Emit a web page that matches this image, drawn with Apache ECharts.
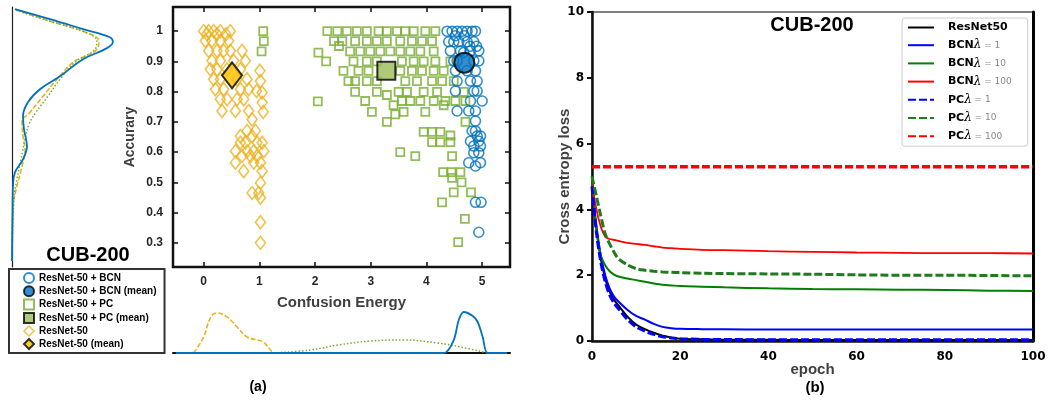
<!DOCTYPE html>
<html>
<head>
<meta charset="utf-8">
<script src="https://cdn.jsdelivr.net/npm/echarts@6/dist/echarts.min.js"></script>
<style>
  html, body { margin: 0; padding: 0; background: #fff; }
  #chart { width: 1052px; height: 400px; }
</style>
</head>
<body>
<div id="chart"></div>
<script>
// ---- (a) scatter: confusion energy vs accuracy ----
const energyTicks = [0, 1, 2, 3, 4, 5];
const accTicks = [0.3, 0.4, 0.5, 0.6, 0.7, 0.8, 0.9, 1];

// ResNet-50 (baseline) per-class points [energy, accuracy]
const basePoints = [
  [0.00,1.00],[0.09,1.00],[0.18,1.00],[0.30,1.00],[0.48,1.00],[0.06,0.99],[0.24,0.99],[0.40,0.99],
  [0.03,0.968],[0.15,0.968],[0.30,0.968],[0.45,0.968],
  [0.09,0.935],[0.24,0.935],[0.36,0.935],[0.48,0.935],[0.69,0.935],
  [0.15,0.902],[0.30,0.902],[0.54,0.902],[0.75,0.902],
  [0.12,0.874],[0.24,0.874],[0.42,0.874],[0.66,0.874],
  [0.18,0.841],[0.30,0.841],[0.60,0.841],[0.78,0.841],
  [0.21,0.808],[0.36,0.808],[0.66,0.808],[0.81,0.808],
  [0.30,0.775],[0.42,0.775],[0.60,0.775],[0.72,0.775],
  [0.33,0.736],[0.57,0.736],[0.81,0.736],
  [1.01,0.869],[1.02,0.835],[0.95,0.802],[1.05,0.797],[1.05,0.764],[1.07,0.733],
  [0.87,0.708],[0.78,0.670],[0.93,0.670],[0.66,0.653],[0.87,0.653],[0.66,0.631],[0.75,0.631],[0.96,0.631],[1.05,0.631],
  [0.57,0.603],[0.78,0.603],[0.90,0.603],[1.08,0.603],[0.69,0.587],[0.84,0.587],[0.96,0.587],
  [0.57,0.565],[0.90,0.565],[1.02,0.565],[0.72,0.537],[1.05,0.537],[1.02,0.498],[0.87,0.465],[0.99,0.465],
  [1.02,0.449],[1.02,0.368],[1.02,0.300]
];
// ResNet-50 + PC
const pcPoints = [
  [1.07,1.00],[1.08,0.967],[1.04,0.933],[2.06,0.929],[2.20,0.90],[2.05,0.768],
  [2.22,1],[2.40,1],[2.57,1],[2.75,1],[2.93,1],[3.14,1],[3.29,1],[3.47,1],[3.62,1],[3.77,1],[3.98,1],[4.16,1],
  [2.34,0.967],[2.49,0.967],[2.72,0.967],[2.93,0.967],[3.11,0.967],[3.29,0.967],[3.53,0.967],[3.74,0.967],[3.92,0.967],[4.10,0.967],[2.43,0.951],
  [2.63,0.933],[2.81,0.933],[2.99,0.933],[3.17,0.933],[3.35,0.933],[3.53,0.933],[3.71,0.933],[3.89,0.933],[4.13,0.933],
  [2.69,0.90],[2.93,0.90],[3.11,0.90],[3.56,0.90],[3.77,0.90],[3.95,0.90],[4.16,0.90],[4.43,0.90],
  [2.51,0.869],[2.78,0.869],[2.96,0.869],[3.53,0.869],[3.74,0.869],[3.92,0.869],[4.13,0.869],[4.31,0.869],
  [2.60,0.835],[2.72,0.835],[2.93,0.835],[3.11,0.835],[3.62,0.835],[3.83,0.835],[4.10,0.835],[4.28,0.835],[4.49,0.835],
  [2.72,0.799],[3.11,0.799],[3.50,0.799],[3.65,0.799],[3.95,0.799],[4.19,0.799],[4.67,0.799],[3.29,0.789],
  [2.90,0.769],[3.56,0.769],[3.71,0.769],[3.89,0.769],[4.13,0.769],[4.34,0.769],[4.52,0.769],[4.70,0.769],
  [3.41,0.755],[4.31,0.755],[3.02,0.733],[3.59,0.733],[3.98,0.733],[3.44,0.725],[3.29,0.700],[4.70,0.700],
  [3.95,0.667],[4.10,0.667],[4.25,0.667],[4.43,0.655],[4.10,0.633],[4.25,0.633],[4.43,0.633],
  [3.53,0.600],[3.80,0.587],[4.46,0.587],[4.30,0.534],[4.45,0.534],[4.61,0.534],[4.46,0.515],[4.63,0.500],
  [4.49,0.467],[4.80,0.467],[4.28,0.434],[4.69,0.379],[4.57,0.302]
];
// ResNet-50 + BCN
const bcnPoints = [
  [4.37,1],[4.46,1],[4.55,1],[4.64,1],[4.73,1],[4.82,1],[4.88,1],
  [4.52,0.985],[4.68,0.985],
  [4.40,0.965],[4.49,0.965],[4.58,0.965],[4.73,0.965],[4.85,0.965],
  [4.78,0.950],[4.90,0.950],
  [4.43,0.935],[4.61,0.935],[4.79,0.935],[4.94,0.935],[4.67,0.930],
  [4.49,0.902],[4.55,0.902],[4.85,0.902],[4.94,0.902],
  [4.52,0.869],[4.73,0.869],[4.88,0.869],
  [4.55,0.835],[4.79,0.835],[4.91,0.835],
  [4.52,0.802],[4.85,0.802],[4.91,0.802],
  [4.79,0.769],[5.00,0.769],
  [4.55,0.736],[4.76,0.736],[4.88,0.736],
  [4.88,0.703],[4.82,0.670],[4.88,0.670],[4.91,0.653],[4.97,0.653],[4.79,0.636],[4.94,0.636],
  [4.85,0.620],[4.97,0.620],[4.85,0.598],[4.94,0.598],[4.76,0.565],[4.97,0.565],[4.88,0.554],
  [4.88,0.434],[4.98,0.434],[4.94,0.335]
];
const baseMean = [0.51, 0.854];
const pcMean = [3.28, 0.869];
const bcnMean = [4.68, 0.896];

// marginal density of accuracy [density, accuracy]
const bcnAccDensity = [[0.15,1.073],[1.93,1.04],[3.61,1.007],[4.98,0.98],[5.13,0.964],[4.83,0.944],[3.61,0.907],[2.44,0.851],[1.42,0.808],[0.81,0.765],[0.56,0.719],[0.61,0.676],[0.76,0.619],[0.56,0.576],[0.15,0.533],[0.05,0.487],[0.03,0.42],[0,0.24]];
const baseAccDensity = [[0.2,1.07],[1.93,1.033],[3.71,0.997],[4.42,0.967],[4.32,0.94],[3.71,0.917],[3.1,0.897],[2.29,0.841],[1.58,0.785],[0.92,0.732],[0.51,0.699],[0.56,0.652],[0.66,0.609],[0.51,0.553],[0.25,0.487],[0.05,0.42],[0,0.24]];
const pcAccDensity = [[0.2,1.07],[1.93,1.033],[3.71,0.997],[4.32,0.967],[4.22,0.94],[3.2,0.897],[2.44,0.841],[1.83,0.785],[1.22,0.732],[0.86,0.692],[0.66,0.642],[0.46,0.576],[0.25,0.51],[0.1,0.444],[0,0.24]];

// marginal density of confusion energy [energy, density]
const baseEnergyDensity = [[-0.18,0],[0,1.81],[0.12,3.96],[0.24,4.53],[0.42,4.08],[0.6,2.94],[0.78,1.81],[0.96,1.47],[1.07,1.25],[1.2,0.34],[1.25,0]];
const bcnEnergyDensity = [[-0.5,0],[4.31,0],[4.49,1.47],[4.58,3.74],[4.67,4.64],[4.83,4.19],[4.92,3.51],[5.01,1.81],[5.1,0],[5.45,0]];
const pcEnergyDensity = [[1.2,0],[1.92,0.34],[2.4,0.9],[3.0,1.36],[3.59,1.47],[4.2,1.13],[4.61,0.68],[5.1,0]];

// ---- (b) training loss curves ----
const epochs = [0,1,2,3,4,5,6,8,10,12,14,16,18,20,25,30,40,50,60,70,80,90,100];
const lossResNet50 = [4.7,3.4,2.5,1.9,1.5,1.25,1.08,0.75,0.5,0.36,0.25,0.16,0.11,0.07,0.05,0.04,0.035,0.03,0.03,0.03,0.03,0.03,0.03];
const lossBCN1   = [4.6,3.5,2.6,2.0,1.6,1.35,1.2,0.95,0.76,0.65,0.52,0.43,0.39,0.37,0.36,0.355,0.35,0.35,0.35,0.35,0.35,0.35,0.35];
const lossBCN10  = [5.0,3.4,2.6,2.3,2.12,2.02,1.96,1.9,1.85,1.8,1.75,1.71,1.69,1.67,1.65,1.63,1.6,1.58,1.57,1.56,1.55,1.53,1.52];
const lossBCN100 = [4.8,4.0,3.47,3.17,3.1,3.07,3.04,2.98,2.95,2.92,2.88,2.84,2.82,2.8,2.77,2.76,2.73,2.71,2.69,2.68,2.67,2.67,2.66];
const lossPC1    = [4.7,3.3,2.4,1.8,1.4,1.15,0.98,0.66,0.43,0.3,0.2,0.13,0.09,0.07,0.05,0.045,0.04,0.04,0.04,0.04,0.04,0.04,0.04];
const lossPC10   = [5.0,4.4,3.8,3.25,2.95,2.7,2.5,2.32,2.2,2.15,2.12,2.1,2.09,2.08,2.06,2.05,2.04,2.03,2.01,2.0,2.0,1.99,1.98];
const lossPC100  = [5.3,5.3,5.3,5.3,5.3,5.3,5.3,5.3,5.3,5.3,5.3,5.3,5.3,5.3,5.3,5.3,5.3,5.3,5.3,5.3,5.3,5.3,5.3];

const ORANGE = '#EDB120', GREEN = '#77AC30', BLUE = '#0072BD';
const SANS = "'Liberation Sans', Arial, sans-serif";
const DEJAVU = "'DejaVu Sans', sans-serif";

const pairs = (xs, ys) => xs.map((x, i) => [x, ys[i]]);

const chart = echarts.init(document.getElementById('chart'), null, { renderer: 'canvas' });

const hiddenAxis = (extra) => Object.assign({
  type: 'value', axisLine: { show: false }, axisTick: { show: false },
  axisLabel: { show: false }, splitLine: { show: false }
}, extra);

const lossLine = (name, data, color, width, dashed) => ({
  name, type: 'line', xAxisIndex: 4, yAxisIndex: 4, data: pairs(epochs, data),
  showSymbol: false, symbol: 'circle', smooth: 0.3, z: 3,
  lineStyle: { color, width, type: dashed ? [8, 3] : 'solid' },
  itemStyle: { color, opacity: 0 }
});

const legendLabel = (name) => {
  if (name === 'ResNet50') return '{n|ResNet50}';
  const m = name.match(/^(\w+)λ = (\d+)$/);
  return `{n|${m[1]}}{l|λ}{g| = ${m[2]}}`;
};

const tickStyle = { color: '#111', width: 1.5 };
const axisNameStyle = (size) => ({ fontFamily: SANS, fontWeight: 'bold', fontSize: size, color: '#404040' });

const option = {
  animation: false,
  backgroundColor: '#fff',
  grid: [
    { left: 173, top: 7, width: 337, height: 260, show: true, borderColor: '#111', borderWidth: 2.5, backgroundColor: 'transparent' },
    { left: 12, top: 7, width: 118, height: 260 },
    { left: 173, top: 300, width: 337, height: 53 },
    { left: 592, top: 12, width: 441, height: 329, show: true, borderColor: '#000', borderWidth: 1 }
  ],
  xAxis: [
    { type: 'value', gridIndex: 0, min: -0.55, max: 5.5, position: 'bottom',
      axisLine: { show: false, onZero: false }, splitLine: { show: false },
      axisTick: { show: true, inside: true, length: 5, customValues: energyTicks, lineStyle: tickStyle },
      axisLabel: { customValues: energyTicks, margin: 9, fontFamily: SANS, fontWeight: 'bold', fontSize: 12, color: '#262626' },
      name: 'Confusion Energy', nameLocation: 'middle', nameGap: 28, nameMoveOverlap: false,
      nameTextStyle: axisNameStyle(15) },
    { type: 'value', gridIndex: 0, min: -0.55, max: 5.5, position: 'top',
      axisLine: { show: false, onZero: false }, splitLine: { show: false }, axisLabel: { show: false },
      axisTick: { show: true, inside: true, length: 5, customValues: energyTicks, lineStyle: tickStyle } },
    hiddenAxis({ gridIndex: 1, min: 0, max: 6 }),
    hiddenAxis({ gridIndex: 2, min: -0.55, max: 5.5, axisLine: { show: true, onZero: false, lineStyle: { color: '#111', width: 2 } } }),
    { type: 'value', gridIndex: 3, min: 0, max: 100, interval: 20,
      axisLine: { show: true, onZero: false, lineStyle: { color: '#111', width: 2.5 } },
      axisTick: { show: false }, splitLine: { show: false },
      axisLabel: { margin: 10, fontFamily: DEJAVU, fontWeight: 'bold', fontSize: 12, color: '#000' },
      name: 'epoch', nameLocation: 'middle', nameGap: 21, nameMoveOverlap: false,
      nameTextStyle: axisNameStyle(15) }
  ],
  yAxis: [
    { type: 'value', gridIndex: 0, min: 0.22, max: 1.08, position: 'left',
      axisLine: { show: false, onZero: false }, splitLine: { show: false },
      axisTick: { show: true, inside: true, length: 5, customValues: accTicks, lineStyle: tickStyle },
      axisLabel: { customValues: accTicks, margin: 10, fontFamily: SANS, fontWeight: 'bold', fontSize: 12, color: '#262626' },
      name: 'Accurary', nameLocation: 'middle', nameGap: 36, nameRotate: 90, nameMoveOverlap: false,
      nameTextStyle: axisNameStyle(14) },
    { type: 'value', gridIndex: 0, min: 0.22, max: 1.08, position: 'right',
      axisLine: { show: false, onZero: false }, splitLine: { show: false }, axisLabel: { show: false },
      axisTick: { show: true, inside: true, length: 5, customValues: accTicks, lineStyle: tickStyle } },
    hiddenAxis({ gridIndex: 1, min: 0.22, max: 1.08, axisLine: { show: true, onZero: false, lineStyle: { color: '#222', width: 1.2 } } }),
    hiddenAxis({ gridIndex: 2, min: 0, max: 6 }),
    { type: 'value', gridIndex: 3, min: 0, max: 10, interval: 2, position: 'left',
      axisLine: { show: true, onZero: false, lineStyle: { color: '#111', width: 2.5 } },
      axisTick: { show: true, length: 5, lineStyle: { color: '#111', width: 2 } }, splitLine: { show: false },
      axisLabel: { margin: 8, fontFamily: DEJAVU, fontWeight: 'bold', fontSize: 12, color: '#000' },
      name: 'Cross entropy loss', nameLocation: 'middle', nameGap: 20, nameRotate: 90, nameMoveOverlap: false,
      nameTextStyle: axisNameStyle(15) },
    hiddenAxis({ gridIndex: 3, min: 0, max: 10, position: 'right',
      axisLine: { show: true, onZero: false, lineStyle: { color: '#000', width: 3 } } })
  ],
  legend: [
    { orient: 'vertical', left: 9, top: 269, padding: [3, 8, 3, 14], itemGap: 1.3,
      itemWidth: 10, itemHeight: 10, borderColor: '#333', borderWidth: 2, backgroundColor: '#fff',
      textStyle: { fontFamily: SANS, fontWeight: 'bold', fontSize: 10, color: '#000' },
      data: [
        { name: 'ResNet-50 + BCN', icon: 'circle', itemStyle: { color: '#fff', borderColor: BLUE, borderWidth: 2 } },
        { name: 'ResNet-50 + BCN (mean)', icon: 'circle', itemStyle: { color: '#0070C0', borderColor: '#000', borderWidth: 2 } },
        { name: 'ResNet-50 + PC', icon: 'rect', itemStyle: { color: '#fff', borderColor: GREEN, borderWidth: 2 } },
        { name: 'ResNet-50 + PC (mean)', icon: 'rect', itemStyle: { color: '#9BBB59', borderColor: '#000', borderWidth: 2 } },
        { name: 'ResNet-50', icon: 'diamond', itemStyle: { color: '#fff', borderColor: ORANGE, borderWidth: 1.5 } },
        { name: 'ResNet-50 (mean)', icon: 'diamond', itemStyle: { color: '#FFC000', borderColor: '#000', borderWidth: 2 } }
      ] },
    { orient: 'vertical', left: 902, top: 18, padding: [4, 16, 4, 5], itemGap: 6.2,
      itemWidth: 26, itemHeight: 12, borderColor: '#ccc', borderWidth: 1, borderRadius: 3, backgroundColor: '#fff',
      itemStyle: { opacity: 0 },
      formatter: legendLabel,
      textStyle: { padding: [0, 0, 0, 9],
        rich: {
          n: { fontFamily: DEJAVU, fontWeight: 'bold', fontSize: 11, color: '#000' },
          l: { fontFamily: "'DejaVu Serif', serif", fontStyle: 'italic', fontSize: 12, color: '#000' },
          g: { fontFamily: DEJAVU, fontSize: 9, color: '#888' }
        } },
      data: ['ResNet50', 'BCNλ = 1', 'BCNλ = 10', 'BCNλ = 100', 'PCλ = 1', 'PCλ = 10', 'PCλ = 100'] }
  ],
  graphic: [
    { type: 'text', x: 88, y: 255, style: { text: 'CUB-200', font: `bold 20px ${SANS}`, fill: '#000', align: 'center', verticalAlign: 'middle' } },
    { type: 'text', x: 812, y: 25, style: { text: 'CUB-200', font: `bold 20px ${SANS}`, fill: '#000', align: 'center', verticalAlign: 'middle' } },
    { type: 'text', x: 258, y: 387, style: { text: '(a)', font: `bold 14px ${SANS}`, fill: '#000', align: 'center', verticalAlign: 'middle' } },
    { type: 'text', x: 815, y: 388, style: { text: '(b)', font: `bold 15px ${SANS}`, fill: '#000', align: 'center', verticalAlign: 'middle' } }
  ],
  series: [
    // per-class points
    { name: 'ResNet-50', type: 'scatter', xAxisIndex: 0, yAxisIndex: 0, data: basePoints,
      symbol: 'diamond', symbolSize: [10, 13], z: 2,
      itemStyle: { color: 'rgba(0,0,0,0)', borderColor: ORANGE, borderWidth: 1.6 } },
    { name: 'ResNet-50 + PC', type: 'scatter', xAxisIndex: 0, yAxisIndex: 0, data: pcPoints,
      symbol: 'rect', symbolSize: 8, z: 2,
      itemStyle: { color: 'rgba(0,0,0,0)', borderColor: GREEN, borderWidth: 1.8 } },
    { name: 'ResNet-50 + BCN', type: 'scatter', xAxisIndex: 0, yAxisIndex: 0, data: bcnPoints,
      symbol: 'circle', symbolSize: 10, z: 2,
      itemStyle: { color: 'rgba(0,0,0,0)', borderColor: BLUE, borderWidth: 1.6 } },
    // class means
    { name: 'ResNet-50 (mean)', type: 'scatter', xAxisIndex: 0, yAxisIndex: 0, data: [baseMean],
      symbol: 'diamond', symbolSize: [20, 26], z: 4,
      itemStyle: { color: '#FFC000', borderColor: '#000', borderWidth: 2 } },
    { name: 'ResNet-50 + PC (mean)', type: 'scatter', xAxisIndex: 0, yAxisIndex: 0, data: [pcMean],
      symbol: 'rect', symbolSize: 18, z: 4,
      itemStyle: { color: '#9BBB59', borderColor: '#000', borderWidth: 2 } },
    { name: 'ResNet-50 + BCN (mean)', type: 'scatter', xAxisIndex: 0, yAxisIndex: 0, data: [bcnMean],
      symbol: 'circle', symbolSize: 20, z: 4,
      itemStyle: { color: '#0070C0', borderColor: '#000', borderWidth: 2 } },
    // accuracy marginals (left)
    { name: 'acc-base', type: 'line', xAxisIndex: 2, yAxisIndex: 2, data: baseAccDensity, showSymbol: false, smooth: 0.4,
      lineStyle: { color: ORANGE, width: 1.6, type: [5, 2] } },
    { name: 'acc-pc', type: 'line', xAxisIndex: 2, yAxisIndex: 2, data: pcAccDensity, showSymbol: false, smooth: 0.4,
      lineStyle: { color: GREEN, width: 1.5, type: [1.5, 2] } },
    { name: 'acc-bcn', type: 'line', xAxisIndex: 2, yAxisIndex: 2, data: bcnAccDensity, showSymbol: false, smooth: 0.4,
      lineStyle: { color: BLUE, width: 1.8 } },
    // confusion-energy marginals (bottom)
    { name: 'energy-base', type: 'line', xAxisIndex: 3, yAxisIndex: 3, data: baseEnergyDensity, showSymbol: false, smooth: 0.4,
      lineStyle: { color: ORANGE, width: 1.6, type: [5, 2] } },
    { name: 'energy-pc', type: 'line', xAxisIndex: 3, yAxisIndex: 3, data: pcEnergyDensity, showSymbol: false, smooth: 0.4,
      lineStyle: { color: GREEN, width: 1.5, type: [1.5, 2] } },
    { name: 'energy-bcn', type: 'line', xAxisIndex: 3, yAxisIndex: 3, data: bcnEnergyDensity, showSymbol: false, smooth: 0.3,
      lineStyle: { color: BLUE, width: 1.8 } },
    // training loss
    lossLine('ResNet50', lossResNet50, '#000000', 2, false),
    lossLine('BCNλ = 1', lossBCN1, '#0000FF', 2, false),
    lossLine('BCNλ = 10', lossBCN10, '#008000', 2, false),
    lossLine('BCNλ = 100', lossBCN100, '#FF0000', 1.8, false),
    lossLine('PCλ = 1', lossPC1, '#0000FF', 3, true),
    lossLine('PCλ = 10', lossPC10, '#1E7B1E', 3, true),
    lossLine('PCλ = 100', lossPC100, '#FF0000', 3.5, true)
  ]
};

chart.setOption(option);
</script>
</body>
</html>
